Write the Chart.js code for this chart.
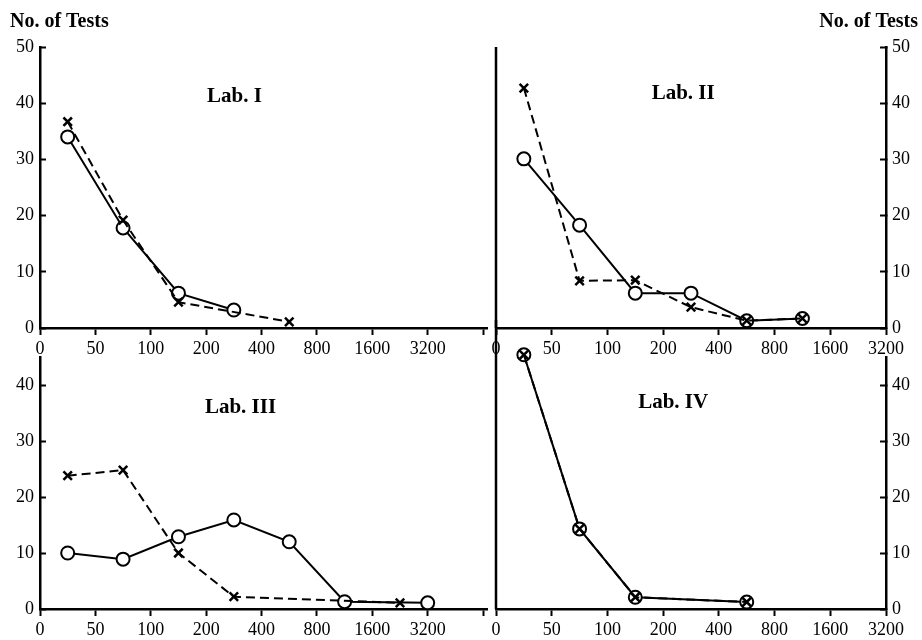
<!DOCTYPE html>
<html>
<head>
<meta charset="utf-8">
<title>No. of Tests - Lab. I-IV</title>
<script src="https://cdn.jsdelivr.net/npm/chart.js@4.4.1/dist/chart.umd.min.js"></script>
<style>
  body { margin: 0; background: #fff; }
  #wrap { position: relative; width: 922px; height: 640px; overflow: hidden; }
  canvas { position: absolute; }
  #lab1 { left: 0; top: 0; }
  #lab2 { left: 470px; top: 0; }
  #lab3 { left: 0; top: 320px; }
  #lab4 { left: 470px; top: 320px; }
</style>
</head>
<body>
<div id="wrap">
  <canvas id="lab1" width="496" height="362"></canvas>
  <canvas id="lab2" width="452" height="362"></canvas>
  <canvas id="lab3" width="496" height="320"></canvas>
  <canvas id="lab4" width="452" height="320"></canvas>
</div>
<script>
// class boundaries on the x axis
const xTicks = ['0', '50', '100', '200', '400', '800', '1600', '3200'];
// class centres, in tick steps (class k lies between tick k and k+1)
const mids = [0.5, 1.5, 2.5, 3.5, 4.5, 5.5, 6.5];

// circles = solid line, crosses = dashed line
const lab1Circles = [34, 17.8, 6.2, 3.2];
const lab1Crosses = [36.7, 19.2, 4.6, null, 1.1];

const lab2Circles = [30.1, 18.3, 6.2, 6.2, 1.3, 1.7];
const lab2Crosses = [42.7, 8.4, 8.5, 3.7, 1.3, 1.7];

const lab3Circles = [10.0, 8.9, 12.9, 15.9, 12.0, 1.3, 1.1];
const lab3CircleX = [0.5, 1.5, 2.5, 3.5, 4.5, 5.5, 7];
const lab3Crosses = [23.8, 24.8, 10.0, 2.2, null, null, 1.1];

const lab4Circles = [45.4, 14.3, 2.1, null, 1.25];
const lab4Crosses = [45.4, 14.3, 2.1, null, 1.25];

const FONT = '"Liberation Serif", "DejaVu Serif", serif';

function pts(ys, xs) {
  xs = xs || mids;
  return ys.map((y, i) => ({ x: xs[i], y: y }));
}

const panelText = {
  id: 'panelText',
  afterDraw(chart, args, opts) {
    const { ctx, chartArea, scales } = chart;
    ctx.save();
    ctx.fillStyle = '#000';
    ctx.textBaseline = 'middle';
    if (opts.title) {
      ctx.font = 'bold 21px ' + FONT;
      ctx.textAlign = 'center';
      ctx.fillText(opts.title, scales.x.getPixelForValue(opts.at[0]), scales.y.getPixelForValue(opts.at[1]));
    }
    if (opts.axisTitle) {
      ctx.font = 'bold 20px ' + FONT;
      const onLeft = scales.y.options.position === 'left';
      ctx.textAlign = onLeft ? 'left' : 'right';
      ctx.fillText(opts.axisTitle, onLeft ? chartArea.left - 30 : chartArea.right + 32, chartArea.top - 25);
    }
    ctx.restore();
  }
};

// the vertical line between the left and right panels
const divider = {
  id: 'divider',
  afterDraw(chart, args, opts) {
    if (!opts.show) return;
    const { ctx, chartArea } = chart;
    ctx.save();
    ctx.strokeStyle = '#000';
    ctx.lineWidth = 2.5;
    ctx.beginPath();
    ctx.moveTo(chartArea.left, opts.fromTop ? 0 : chartArea.top);
    ctx.lineTo(chartArea.left, chartArea.bottom);
    ctx.stroke();
    ctx.restore();
  }
};

function makePanel(id, p) {
  const left = p.side === 'left';
  const datasets = [
    {
      data: pts(p.circles, p.circleX),
      borderColor: '#000',
      borderWidth: 2,
      pointStyle: 'circle',
      pointRadius: 6.5,
      pointBorderWidth: 2,
      pointBackgroundColor: '#fff',
      pointBorderColor: '#000',
      spanGaps: true,
      clip: false,
      order: 1
    },
    {
      data: pts(p.crosses),
      borderColor: '#000',
      borderWidth: 2,
      borderDash: [9, 5],
      pointStyle: 'crossRot',
      pointRadius: 6,
      pointBorderWidth: 2.5,
      pointBorderColor: '#000',
      spanGaps: true,
      clip: false,
      order: 0
    }
  ];
  return new Chart(document.getElementById(id), {
    type: 'line',
    data: { datasets: datasets },
    options: {
      responsive: false,
      animation: false,
      layout: { padding: { top: p.padTop, left: left ? 0 : 26, right: 0, bottom: 0 } },
      plugins: {
        legend: { display: false },
        tooltip: { enabled: false },
        panelText: { title: p.title, at: p.titleAt, axisTitle: p.axisTitle },
        divider: { show: !left, fromTop: p.fromTop }
      },
      scales: {
        x: {
          type: 'linear',
          min: 0,
          max: left ? 8.08 : 7,
          afterFit: s => { s.height = p.xHeight; },
          ticks: {
            stepSize: 1,
            includeBounds: false,
            autoSkip: false,
            maxRotation: 0,
            padding: 3,
            color: '#000',
            font: { family: FONT, size: 18 },
            callback: v => xTicks[v] !== undefined ? xTicks[v] : ''
          },
          grid: { drawOnChartArea: false, tickLength: 7, tickWidth: 2, color: '#000' },
          border: { display: true, color: '#000', width: 2.5 }
        },
        y: {
          position: left ? 'left' : 'right',
          min: 0,
          max: p.yMax,
          afterFit: s => { s.width = left ? 40 : 36; },
          ticks: {
            stepSize: 10,
            includeBounds: false,
            padding: 12,
            color: '#000',
            font: { family: FONT, size: 18 }
          },
          grid: { drawOnChartArea: false, tickLength: -6, tickWidth: 2, color: '#000' },
          border: { display: true, color: '#000', width: 2.5 }
        }
      }
    },
    plugins: [panelText, divider]
  });
}

makePanel('lab1', {
  side: 'left', padTop: 47, xHeight: 34, yMax: 50,
  circles: lab1Circles, crosses: lab1Crosses,
  title: 'Lab. I', titleAt: [3.51, 41.1], axisTitle: 'No. of Tests'
});
makePanel('lab2', {
  side: 'right', padTop: 47, xHeight: 34, yMax: 50, fromTop: false,
  circles: lab2Circles, crosses: lab2Crosses,
  title: 'Lab. II', titleAt: [3.36, 41.8], axisTitle: 'No. of Tests'
});
makePanel('lab3', {
  side: 'left', padTop: 37, xHeight: 31, yMax: 45,
  circles: lab3Circles, circleX: lab3CircleX, crosses: lab3Crosses,
  title: 'Lab. III', titleAt: [3.62, 36]
});
makePanel('lab4', {
  side: 'right', padTop: 37, xHeight: 31, yMax: 45, fromTop: true,
  circles: lab4Circles, crosses: lab4Crosses,
  title: 'Lab. IV', titleAt: [3.18, 36.8]
});
</script>
</body>
</html>
